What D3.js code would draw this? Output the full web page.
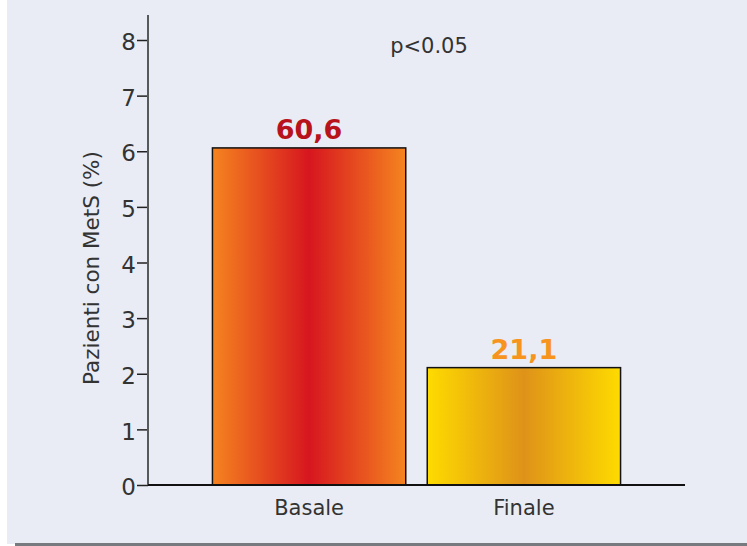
<!DOCTYPE html>
<html>
<head>
<meta charset="utf-8">
<script src="https://cdn.jsdelivr.net/npm/d3@7"></script>
<style>
  html, body { margin: 0; padding: 0; background: #ffffff; }
  svg { display: block; }
  text { font-family: "DejaVu Sans", Verdana, sans-serif; }
</style>
</head>
<body>
<svg id="chart" width="747" height="546"></svg>
<script>
// Percentage of patients with metabolic syndrome, baseline vs. end of study
const categories = ["Basale", "Finale"];
const values = [60.6, 21.1];
const valueLabels = ["60,6", "21,1"];
const tickValues = [0, 10, 20, 30, 40, 50, 60, 70, 80];
const tickLabels = ["0", "1", "2", "3", "4", "5", "6", "7", "8"];
const edgeColors = ["#f5841f", "#fedb00"];
const centerColors = ["#d7161f", "#df9219"];
const labelColors = ["#b8121b", "#f7941d"];

const svg = d3.select("#chart");

// panel background and bottom rule
svg.append("rect").attr("x", 7).attr("y", 0).attr("width", 740).attr("height", 544).attr("fill", "#e9ecf5");
svg.append("rect").attr("x", 15).attr("y", 543).attr("width", 732).attr("height", 3).attr("fill", "#777a7f");

const x = d3.scaleBand().domain(categories).range([148, 685]).paddingInner(0.1).paddingOuter(0.3);
const y = d3.scaleLinear().domain([0, 80]).range([485, 40]);

// gradients for each bar: edge colour -> centre colour -> edge colour
const defs = svg.append("defs");
categories.forEach((c, i) => {
  const g = defs.append("linearGradient").attr("id", "grad" + i)
    .attr("x1", "0%").attr("x2", "100%").attr("y1", "0%").attr("y2", "0%");
  g.append("stop").attr("offset", "0%").attr("stop-color", edgeColors[i]);
  g.append("stop").attr("offset", "50%").attr("stop-color", centerColors[i]);
  g.append("stop").attr("offset", "100%").attr("stop-color", edgeColors[i]);
});

// y axis
const yAxis = d3.axisLeft(y).tickValues(tickValues)
  .tickFormat((d, i) => tickLabels[i]).tickSize(11).tickPadding(1);
const ya = svg.append("g").attr("transform", "translate(148,0)").call(yAxis);
ya.select(".domain").remove();
ya.selectAll(".tick line").attr("stroke", "#222").attr("stroke-width", 1.5);
ya.selectAll(".tick text").attr("fill", "#333").attr("dy", "0.42em").style("font-size", "23px")
  .style("font-family", "'DejaVu Sans', Verdana, sans-serif");
svg.append("line").attr("x1", 148).attr("x2", 148).attr("y1", 15).attr("y2", 485)
  .attr("stroke", "#58595b").attr("stroke-width", 2);

// bars
svg.selectAll("rect.bar").data(values).enter().append("rect")
  .attr("class", "bar")
  .attr("x", (d, i) => x(categories[i]))
  .attr("y", d => y(d))
  .attr("width", x.bandwidth())
  .attr("height", d => y(0) - y(d))
  .attr("fill", (d, i) => `url(#grad${i})`)
  .attr("stroke", "#111").attr("stroke-width", 1.5);

// baseline
svg.append("line").attr("x1", 148).attr("x2", 685).attr("y1", y(0)).attr("y2", y(0))
  .attr("stroke", "#111").attr("stroke-width", 2);

// value labels
svg.selectAll("text.val").data(values).enter().append("text")
  .attr("class", "val")
  .attr("x", (d, i) => x(categories[i]) + x.bandwidth() / 2)
  .attr("y", d => y(d) - 9)
  .attr("text-anchor", "middle")
  .attr("fill", (d, i) => labelColors[i])
  .style("font-size", "27px").style("font-weight", "bold")
  .text((d, i) => valueLabels[i]);

// category labels
svg.selectAll("text.cat").data(categories).enter().append("text")
  .attr("class", "cat")
  .attr("x", d => x(d) + x.bandwidth() / 2)
  .attr("y", 515)
  .attr("text-anchor", "middle")
  .attr("fill", "#333")
  .style("font-size", "21px")
  .text(d => d);

// y axis title
svg.append("text")
  .attr("transform", "translate(99,268) rotate(-90)")
  .attr("text-anchor", "middle")
  .attr("fill", "#333")
  .style("font-size", "21.5px")
  .text("Pazienti con MetS (%)");

// significance note
svg.append("text")
  .attr("x", 429).attr("y", 53)
  .attr("text-anchor", "middle")
  .attr("fill", "#333")
  .style("font-size", "21px")
  .text("p<0.05");
</script>
</body>
</html>
